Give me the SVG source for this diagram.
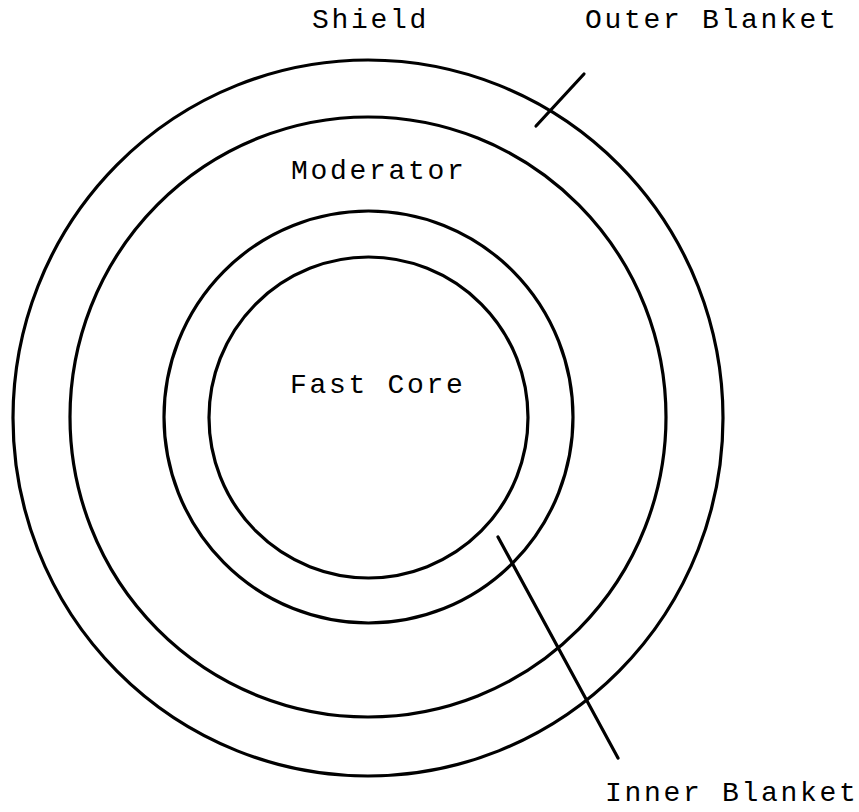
<svg xmlns="http://www.w3.org/2000/svg" width="859" height="812" viewBox="0 0 859 812">
<style>
.ring{fill:none;stroke:#000;stroke-width:3.2}
.lead{stroke:#000;stroke-width:3.2;stroke-linecap:round}
.lbl{font-family:"Liberation Mono","Courier New",monospace;font-size:28px;letter-spacing:2.7px;fill:#000}
</style>
<rect width="859" height="812" fill="#fff"/>
<g id="shield"><ellipse class="ring" cx="368" cy="418" rx="355" ry="358"/><text class="lbl" x="312" y="28">Shield</text></g>
<g id="moderator"><ellipse class="ring" cx="368" cy="417" rx="298" ry="300"/><text class="lbl" x="291" y="179">Moderator</text></g>
<g id="inner-blanket"><ellipse class="ring" cx="368.5" cy="417" rx="204.5" ry="206"/><text class="lbl" x="605" y="801">Inner Blanket</text></g>
<g id="fast-core"><ellipse class="ring" cx="368.5" cy="417.5" rx="159.5" ry="160.5"/><text class="lbl" x="290" y="393">Fast Core</text></g>
<g id="outer-blanket"><text class="lbl" x="585" y="28">Outer Blanket</text></g>
<g id="connectors">
<line class="lead" x1="536" y1="126" x2="584" y2="74"/>
<line class="lead" x1="498" y1="537" x2="618" y2="758"/>
</g>
</svg>
